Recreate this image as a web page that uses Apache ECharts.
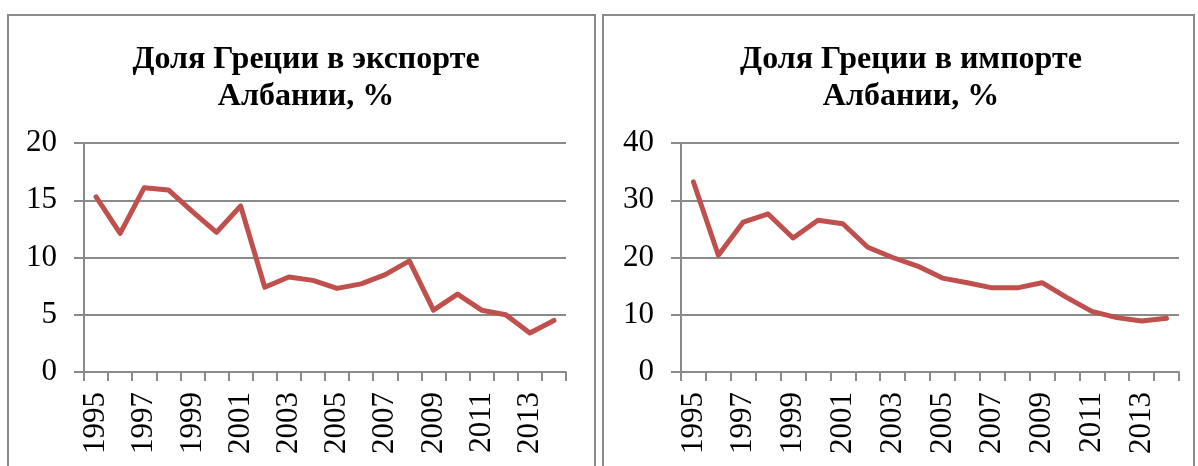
<!DOCTYPE html>
<html>
<head>
<meta charset="utf-8">
<script src="https://cdn.jsdelivr.net/npm/echarts@6/dist/echarts.min.js"></script>
<style>html,body{margin:0;padding:0;background:#fff;}#c{width:1198px;height:466px;}</style>
</head>
<body>
<div id="c"></div>
<script>
const years = ['1995','1996','1997','1998','1999','2000','2001','2002','2003','2004','2005','2006','2007','2008','2009','2010','2011','2012','2013','2014'];
const exportShare = [15.3,12.1,16.1,15.9,14.0,12.2,14.5,7.4,8.3,8.0,7.3,7.7,8.5,9.7,5.4,6.8,5.4,5.0,3.4,4.5];
const importShare = [33.2,20.4,26.2,27.6,23.4,26.5,25.9,21.8,20.0,18.5,16.4,15.6,14.7,14.7,15.6,13.0,10.6,9.5,8.9,9.4];
const titles = ['Доля Греции в экспорте\nАлбании, %', 'Доля Греции в импорте\nАлбании, %'];
const yMax = [20, 40];
const yStep = [5, 10];

const font = '"Liberation Serif", "Times New Roman", serif';
const gray = '#8a8a8a';
const chart = echarts.init(document.getElementById('c'));

function xAxis(i){
  return {
    type:'category', gridIndex:i, data:years, boundaryGap:true,
    axisLine:{lineStyle:{color:gray,width:2}},
    axisTick:{show:true,interval:0,length:9,lineStyle:{color:gray,width:2}},
    axisLabel:{interval:1,rotate:90,margin:20,color:'#000',fontFamily:font,fontSize:31}
  };
}
function yAxis(i){
  return {
    type:'value', gridIndex:i, min:0, max:yMax[i], interval:yStep[i],
    axisLine:{show:true,lineStyle:{color:gray,width:2}},
    axisTick:{show:true,length:10,lineStyle:{color:gray,width:2}},
    splitLine:{lineStyle:{color:gray,width:2}},
    axisLabel:{margin:27,color:'#000',fontFamily:font,fontSize:31}
  };
}

chart.setOption({
  animation:false,
  backgroundColor:'#fff',
  title:[
    {text:titles[0],left:301,top:36,textAlign:'center',textStyle:{fontFamily:font,fontWeight:'bold',fontSize:32,lineHeight:37,color:'#000'}},
    {text:titles[1],left:906,top:36,textAlign:'center',textStyle:{fontFamily:font,fontWeight:'bold',fontSize:32,lineHeight:37,color:'#000'}}
  ],
  graphic:[
    {type:'rect',shape:{x:8,y:15,width:587,height:470},style:{fill:'none',stroke:gray,lineWidth:2}},
    {type:'rect',shape:{x:603,y:15,width:591,height:470},style:{fill:'none',stroke:gray,lineWidth:2}}
  ],
  grid:[
    {left:84,right:632,top:143,bottom:94},
    {left:681,right:19,top:143,bottom:94}
  ],
  xAxis:[xAxis(0),xAxis(1)],
  yAxis:[yAxis(0),yAxis(1)],
  series:[
    {type:'line',xAxisIndex:0,yAxisIndex:0,data:exportShare,showSymbol:false,lineStyle:{color:'#c0504d',width:5,join:'round',cap:'round'}},
    {type:'line',xAxisIndex:1,yAxisIndex:1,data:importShare,showSymbol:false,lineStyle:{color:'#c0504d',width:5,join:'round',cap:'round'}}
  ]
});
</script>
</body>
</html>
